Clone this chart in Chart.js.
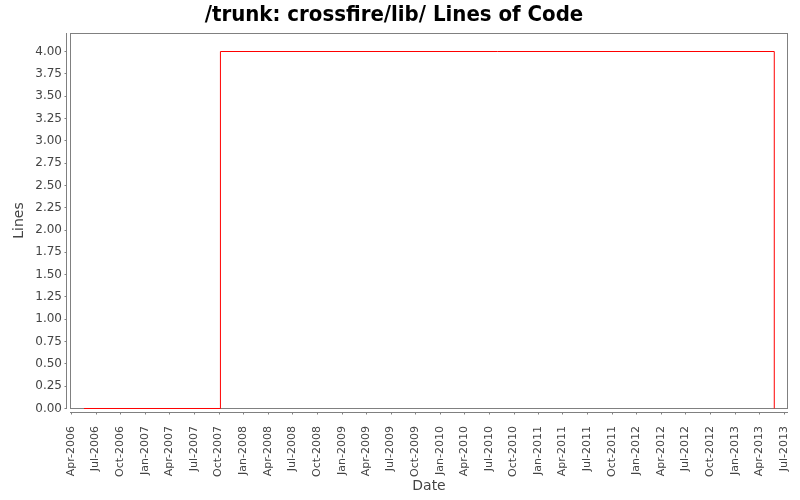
<!DOCTYPE html>
<html>
<head>
<meta charset="utf-8">
<title>/trunk: crossfire/lib/ Lines of Code</title>
<script src="https://cdn.jsdelivr.net/npm/chart.js@4/dist/chart.umd.min.js"></script>
<style>
  html, body { margin: 0; padding: 0; background: #fff; }
  #wrap { width: 800px; height: 500px; }
</style>
</head>
<body>
<div id="wrap"><canvas id="chart" width="800" height="500"></canvas></div>
<script>
// data
const dates = ["2006-05-19", "2007-10-08", "2013-05-27"];
const lines = [0, 4, 0];

const xTickDates = [
  "2006-04-01", "2006-07-01", "2006-10-01", "2007-01-01", "2007-04-01", "2007-07-01",
  "2007-10-01", "2008-01-01", "2008-04-01", "2008-07-01", "2008-10-01", "2009-01-01",
  "2009-04-01", "2009-07-01", "2009-10-01", "2010-01-01", "2010-04-01", "2010-07-01",
  "2010-10-01", "2011-01-01", "2011-04-01", "2011-07-01", "2011-10-01", "2012-01-01",
  "2012-04-01", "2012-07-01", "2012-10-01", "2013-01-01", "2013-04-01", "2013-07-01"
];
const yTicks = [0, 0.25, 0.5, 0.75, 1, 1.25, 1.5, 1.75, 2, 2.25, 2.5, 2.75, 3, 3.25, 3.5, 3.75, 4];

const xMin = Date.parse("2006-03-28");
const xMax = Date.parse("2013-07-17");
// the zero line sits on the bottom frame row, as in the original
const yMin = 0.0056;
const yMax = 4.2073;
const monthNames = ["Jan", "Feb", "Mar", "Apr", "May", "Jun", "Jul", "Aug", "Sep", "Oct", "Nov", "Dec"];

function fmtDate(ms) {
  const d = new Date(ms);
  return monthNames[d.getUTCMonth()] + "-" + d.getUTCFullYear();
}

const axisGray = "#808080";
const textGray = "#444444";

// JFreeChart-like plot frame, with the axis lines set a few pixels off the plot
const plotFrame = {
  id: "plotFrame",
  beforeDatasetsDraw(chart) {
    const { ctx, chartArea: a, scales } = chart;
    ctx.save();
    ctx.strokeStyle = axisGray;
    ctx.lineWidth = 1;
    ctx.strokeRect(a.left + 0.5, a.top + 0.5, a.right - a.left - 1, a.bottom - a.top);

    const ax = a.left - 3.5;
    ctx.beginPath();
    ctx.moveTo(ax, a.top);
    ctx.lineTo(ax, a.bottom + 1);
    scales.y.ticks.forEach((t) => {
      const y = Math.floor(scales.y.getPixelForValue(t.value)) + 0.5;
      ctx.moveTo(ax - 2, y);
      ctx.lineTo(ax, y);
    });
    const ay = a.bottom + 4.5;
    ctx.moveTo(a.left, ay);
    ctx.lineTo(a.right, ay);
    scales.x.ticks.forEach((t) => {
      const x = Math.round(scales.x.getPixelForValue(t.value)) + 0.5;
      ctx.moveTo(x, ay);
      ctx.lineTo(x, ay + 2);
    });
    ctx.stroke();
    ctx.restore();
  }
};

new Chart(document.getElementById("chart"), {
  type: "line",
  data: {
    datasets: [{
      label: "Lines",
      data: dates.map((d, i) => ({ x: Date.parse(d), y: lines[i] })),
      borderColor: "#ff0000",
      borderWidth: 1,
      pointRadius: 0,
      stepped: true,
      fill: false,
      clip: false
    }]
  },
  options: {
    responsive: false,
    animation: false,
    layout: { padding: { top: 0, right: 12, bottom: 0, left: 0 } },
    plugins: {
      legend: { display: false },
      tooltip: { enabled: false },
      title: {
        display: true,
        text: "/trunk: crossfire/lib/ Lines of Code",
        color: "#000",
        font: { family: "'DejaVu Sans Condensed', 'DejaVu Sans'", size: 22, weight: "bold", lineHeight: 1.1 },
        padding: { top: 3, bottom: 5.8 }
      }
    },
    scales: {
      x: {
        type: "linear",
        min: xMin,
        max: xMax,
        afterBuildTicks: (scale) => { scale.ticks = xTickDates.map((d) => ({ value: Date.parse(d) })); },
        afterFit: (scale) => {
          scale.height = 92;
          scale.paddingLeft = 0;
          scale.paddingRight = 0;
        },
        grid: { display: false, drawTicks: false },
        border: { display: false },
        ticks: {
          color: textGray,
          font: { family: "DejaVu Sans", size: 11 },
          minRotation: 90,
          maxRotation: 90,
          autoSkip: false,
          padding: 18,
          callback: (v) => fmtDate(v)
        },
        title: {
          display: true,
          text: "Date",
          color: textGray,
          font: { family: "DejaVu Sans", size: 14 },
          padding: { top: 0, bottom: 5 }
        }
      },
      y: {
        min: yMin,
        max: yMax,
        afterBuildTicks: (scale) => { scale.ticks = yTicks.map((v) => ({ value: v })); },
        afterFit: (scale) => {
          scale.width = 70;
          scale.paddingTop = 0;
          scale.paddingBottom = 0;
        },
        grid: { display: false, drawTicks: false },
        border: { display: false },
        ticks: {
          color: textGray,
          font: { family: "DejaVu Sans", size: 12 },
          padding: 8,
          callback: (v) => v.toFixed(2)
        },
        title: {
          display: true,
          text: "Lines",
          color: textGray,
          font: { family: "DejaVu Sans", size: 14 },
          padding: { top: 11, bottom: 0 }
        }
      }
    }
  },
  plugins: [plotFrame]
});
</script>
</body>
</html>
